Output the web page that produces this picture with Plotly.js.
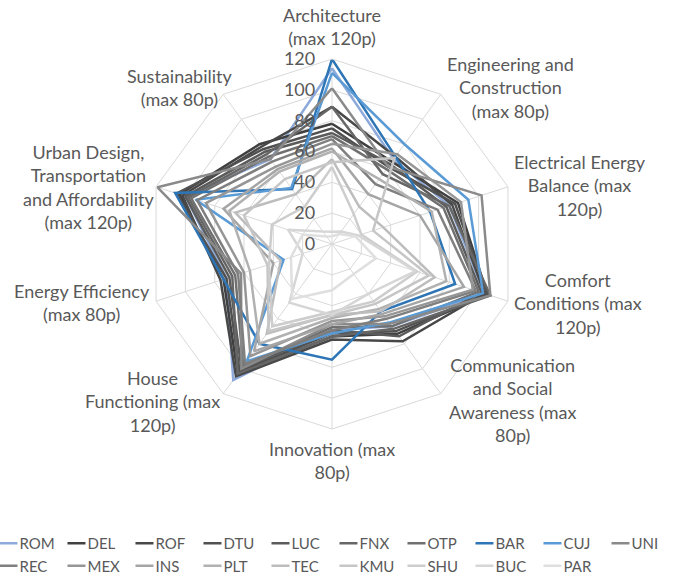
<!DOCTYPE html>
<html>
<head>
<meta charset="utf-8">
<script src="https://cdn.plot.ly/plotly-3.0.1.min.js"></script>
<style>
  html, body { margin: 0; padding: 0; background: #fff; }
  #radar { width: 684px; height: 575px; }
</style>
</head>
<body>
<div id="radar"></div>
<script>
// categories (axis labels, clockwise from the top)
const categories = [
  'Architecture<br>(max 120p)',
  'Engineering and<br>Construction<br>(max 80p)',
  'Electrical Energy<br>Balance (max<br>120p)',
  'Comfort<br>Conditions (max<br>120p)',
  'Communication<br>and Social<br>Awareness (max<br>80p)',
  'Innovation (max<br>80p)',
  'House<br>Functioning (max<br>120p)',
  'Energy Efficiency<br>(max 80p)',
  'Urban Design,<br>Transportation<br>and Affordability<br>(max 120p)',
  'Sustainability<br>(max 80p)'
];

const teams = ['ROM', 'DEL', 'ROF', 'DTU', 'LUC', 'FNX', 'OTP', 'BAR', 'CUJ', 'UNI',
               'REC', 'MEX', 'INS', 'PLT', 'TEC', 'KMU', 'SHU', 'BUC', 'PAR'];

// points per team, same order as categories
const ROM = [114, 68, 80, 104, 66, 56, 109, 72, 100, 68];
const DEL = [78, 66, 86, 106, 72, 60, 104, 74, 104, 80];
const ROF = [89, 70, 82, 104, 78, 62, 106, 76, 102, 78];
const DTU = [75, 62, 84, 106, 70, 58, 102, 72, 106, 76];
const LUC = [72, 64, 78, 102, 74, 56, 100, 70, 100, 74];
const FNX = [89, 56, 80, 108, 68, 60, 104, 68, 98, 72];
const OTP = [70, 60, 76, 100, 66, 54, 98, 66, 96, 70];
const BAR = [120, 70, 67, 84, 54, 75, 80, 74, 107, 44];
const CUJ = [111, 80, 93, 103, 63, 58, 94, 33, 93, 45];
const UNI = [101, 62, 102, 108, 64, 52, 100, 62, 119, 68];
const REC = [68, 48, 72, 98, 60, 56, 96, 64, 92, 66];
const MEX = [65, 72, 88, 96, 58, 50, 90, 60, 86, 62];
const INS = [62, 40, 60, 90, 56, 52, 86, 40, 74, 60];
const PLT = [60, 52, 68, 78, 52, 48, 80, 56, 70, 58];
const TEC = [55, 30, 35, 70, 54, 46, 72, 35, 66, 40];
const KMU = [53, 69, 28, 66, 48, 46, 70, 44, 60, 52];
const SHU = [50, 24, 20, 58, 46, 44, 66, 43, 41, 30];
const BUC = [8, 10, 18, 57, 40, 46, 47, 20, 30, 10];
const PAR = [5, 8, 16, 30, 24, 30, 44, 28, 20, 6];

const values = [ROM, DEL, ROF, DTU, LUC, FNX, OTP, BAR, CUJ, UNI,
                REC, MEX, INS, PLT, TEC, KMU, SHU, BUC, PAR];

const colors = ['#8eaadb', '#404040', '#484848', '#515151', '#5b5b5b', '#666666', '#707070',
                '#2e75b6', '#5b9bd5', '#8a8a8a', '#7f7f7f', '#969696', '#a5a5a5', '#b1b1b1',
                '#bdbdbd', '#c6c6c6', '#cdcdcd', '#d6d6d6', '#dfdfdf'];

// label centres in pixels (x, y from top)
const labelPos = [[332, 27], [510, 88], [580, 185], [578, 303], [512, 400],
                  [332, 460], [152, 401], [82, 302], [88, 187], [180, 88]];

const W = 684, H = 575, B = 50;
const Hp = H - B; // plot area height, legend sits below it
const font = 'Lato, "Open Sans", sans-serif';

const data = teams.map((name, i) => ({
  type: 'scatterpolar',
  mode: 'lines',
  name: name,
  r: values[i].concat([values[i][0]]),
  theta: categories.concat([categories[0]]),
  line: { color: colors[i], width: 2.5 },
  hoverinfo: 'name+r'
}));

const annotations = categories.map((c, i) => ({
  text: c,
  xref: 'paper', yref: 'paper',
  x: labelPos[i][0] / W,
  y: 1 - labelPos[i][1] / Hp,
  xanchor: 'center', yanchor: 'middle',
  align: 'center',
  showarrow: false,
  font: { family: font, size: 18, color: '#595959' }
}));

const cx = 332, cy = 244, R = 185;

var layout = {
  width: W,
  height: H,
  margin: { l: 0, r: 0, t: 0, b: B, autoexpand: false },
  paper_bgcolor: '#fff',
  font: { family: font, color: '#595959' },
  polar: {
    domain: {
      x: [(cx - R) / W, (cx + R) / W],
      y: [1 - (cy + R) / Hp, 1 - (cy - R) / Hp]
    },
    bgcolor: 'rgba(0,0,0,0)',
    gridshape: 'linear',
    angularaxis: {
      type: 'category',
      categoryarray: categories,
      rotation: 90,
      direction: 'clockwise',
      showticklabels: false,
      ticks: '',
      showline: true,
      linecolor: '#d9d9d9',
      linewidth: 1,
      gridcolor: '#d9d9d9',
      gridwidth: 1
    },
    radialaxis: {
      range: [0, 120],
      dtick: 20,
      angle: 90,
      tickangle: 90,
      side: 'counterclockwise',
      showline: false,
      ticks: 'outside',
      ticklen: 10,
      tickcolor: 'rgba(0,0,0,0)',
      gridcolor: '#d9d9d9',
      gridwidth: 1,
      tickfont: { family: font, size: 18, color: '#595959' }
    }
  },
  showlegend: true,
  legend: {
    orientation: 'h',
    x: -0.03,
    xanchor: 'left',
    y: -0.004,
    yanchor: 'top',
    entrywidth: 23,
    entrywidthmode: 'pixels',
    traceorder: 'normal',
    font: { family: font, size: 15, color: '#595959' }
  },
  annotations: annotations
};

var config = { responsive: false, displayModeBar: false };

Plotly.newPlot('radar', data, layout, config).then(gd => {
  // shorter legend line samples, sitting right before the name
  gd.querySelectorAll('.legendlines path').forEach(p => p.setAttribute('d', 'M20,0h18'));
});
</script>
</body>
</html>
